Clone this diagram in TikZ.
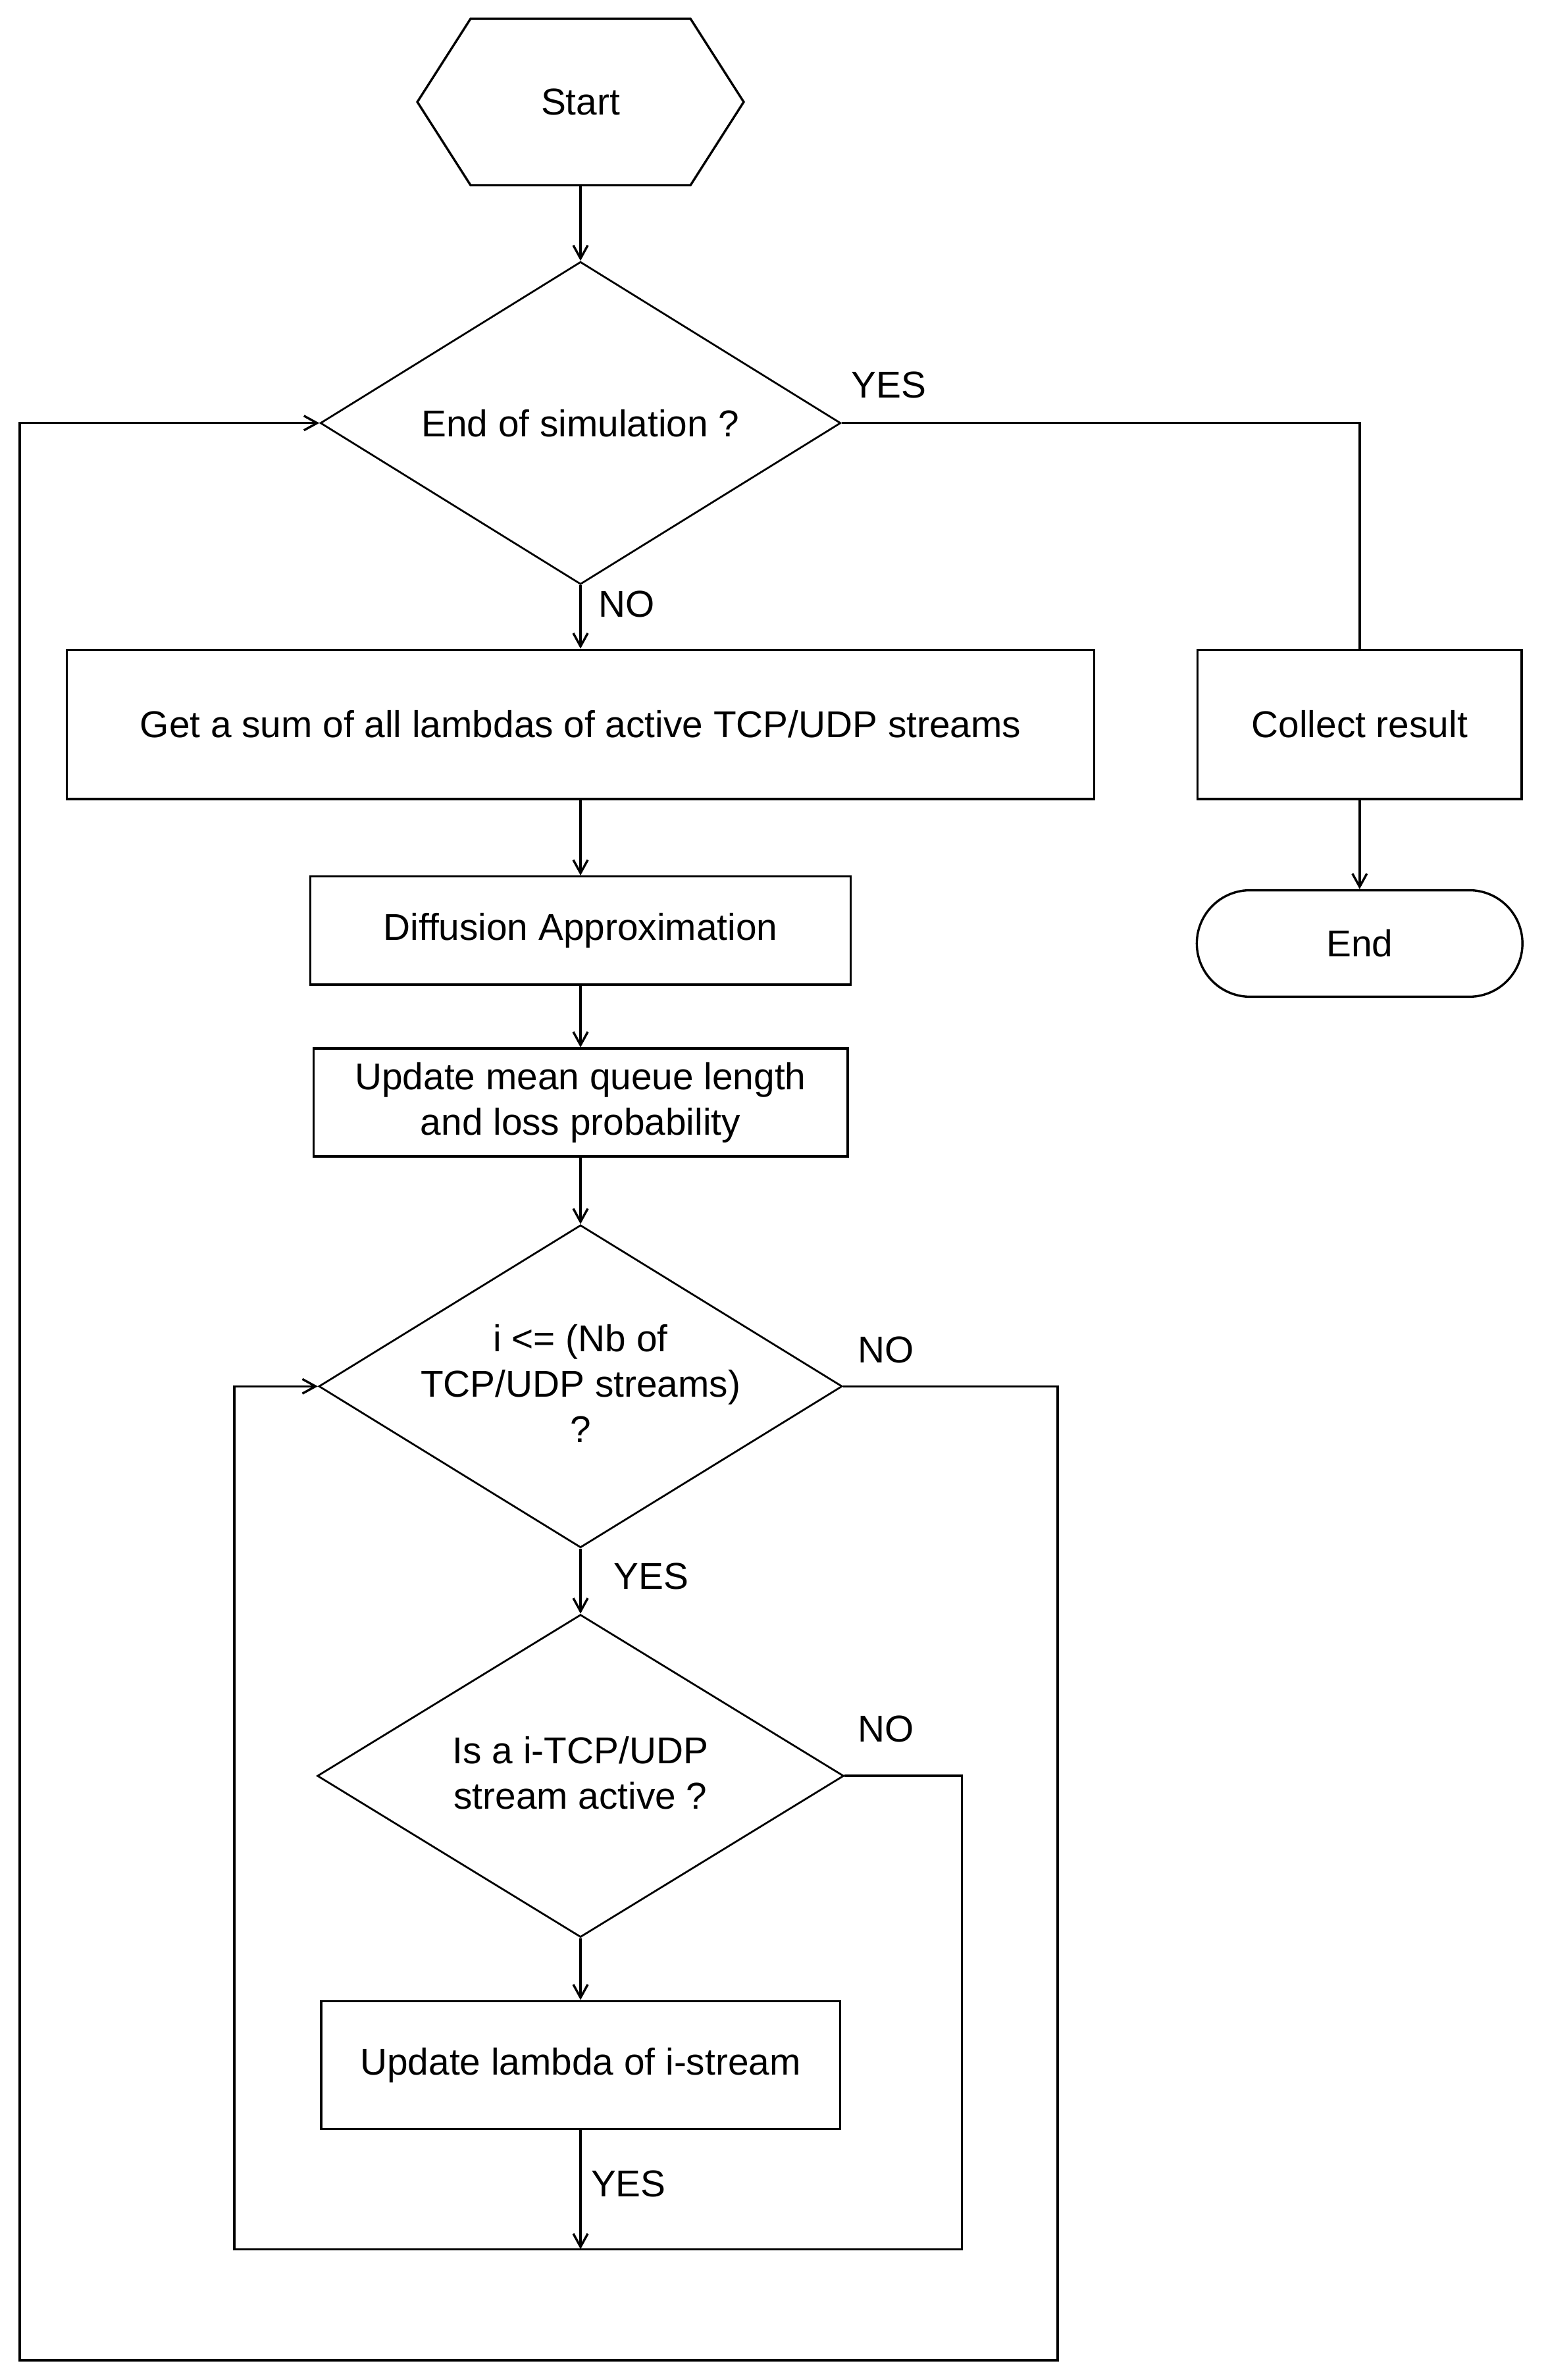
\documentclass[tikz,border=0pt]{standalone}
\usepackage{fontspec}
\setmainfont{Liberation Sans}
\usetikzlibrary{shapes.geometric,arrows.meta}
\begin{document}
\begin{tikzpicture}[x=0.578pt,y=-0.578pt, line width=0.85pt,
  every node/.style={font=\fontsize{14.2}{17.3}\selectfont, inner sep=0pt},
  boxnode/.style={draw, rectangle, align=center},
  dianode/.style={draw, diamond, inner sep=0pt, line width=0.7pt},
  txt/.style={align=center},
  arr/.style={-{Straight Barb[length=5pt,width=5.5pt]}}]
\useasboundingbox (0,0) rectangle (1017,1564);
% start hexagon
\node[minimum width={213*0.578pt}, minimum height={108*0.578pt}] (start) at (381.5,67) {Start};
\draw (start.west) -- ([xshift={35*0.578pt}]start.north west) -- ([xshift={-35*0.578pt}]start.north east)
  -- (start.east) -- ([xshift={-35*0.578pt}]start.south east) -- ([xshift={35*0.578pt}]start.south west) -- cycle;
% decision 1
\node[dianode, minimum width={342*0.578pt}, minimum height={212*0.578pt}] (d1) at (381.5,278) {};
\node[txt] (t1) at (d1.center) {End of simulation ?};
% boxes
\node[boxnode, minimum width={675*0.578pt}, minimum height={98*0.578pt}] (sum) at (381.5,476) {Get a sum of all lambdas of active TCP/UDP streams};
\node[boxnode, minimum width={213*0.578pt}, minimum height={98*0.578pt}] (collect) at (893.5,476) {Collect result};
\node[draw, rectangle, rounded corners={35*0.578pt}, minimum width={214*0.578pt}, minimum height={70*0.578pt}] (end) at (893.5,620) {End};
\node[boxnode, minimum width={355*0.578pt}, minimum height={71*0.578pt}] (diff) at (381.5,611.5) {Diffusion Approximation};
\node[boxnode, minimum width={351*0.578pt}, minimum height={71*0.578pt}] (upd) at (381.5,724.5) {Update mean queue length\\and loss probability};
% decision 2
\node[dianode, minimum width={344*0.578pt}, minimum height={212*0.578pt}] (d2) at (381.5,911) {};
\node[txt] (t2) at (381.5,909) {i <= (Nb of\\TCP/UDP streams)\\?};
% decision 3
\node[dianode, minimum width={346*0.578pt}, minimum height={212*0.578pt}] (d3) at (381.5,1167) {};
\node[txt] (t3) at (381.5,1165) {Is a i-TCP/UDP\\stream active ?};
\node[boxnode, minimum width={341*0.578pt}, minimum height={84*0.578pt}] (lam) at (381.5,1357) {Update lambda of i-stream};
% coordinates
\coordinate (j) at (381.5,1478);
\coordinate (c1) at (632,1478);
\coordinate (c2) at (154,1478);
\coordinate (c3) at (695,1551);
\coordinate (c4) at (13,1551);
% connectors
\draw[arr] (start) -- (d1);
\draw[arr] (d1) -- (sum);
\draw (d1.east) -| (collect.north);
\draw[arr] (collect) -- (end);
\draw[arr] (sum) -- (diff);
\draw[arr] (diff) -- (upd);
\draw[arr] (upd) -- (d2);
\draw[arr] (d2) -- (d3);
\draw[arr] (d3) -- (lam);
\draw[arr] (lam) -- (j);
\draw[arr] (d3.east) -| (c1) -- (c2) |- (d2.west);
\draw[arr] (d2.east) -| (c3) -- (c4) |- (d1.west);
% labels
\node (l1) at (584,253) {YES};
\node (l2) at (412,397) {NO};
\node (l3) at (582,887) {NO};
\node (l4) at (428,1036) {YES};
\node (l5) at (582,1136) {NO};
\node (l6) at (413,1435) {YES};
\end{tikzpicture}
\end{document}
